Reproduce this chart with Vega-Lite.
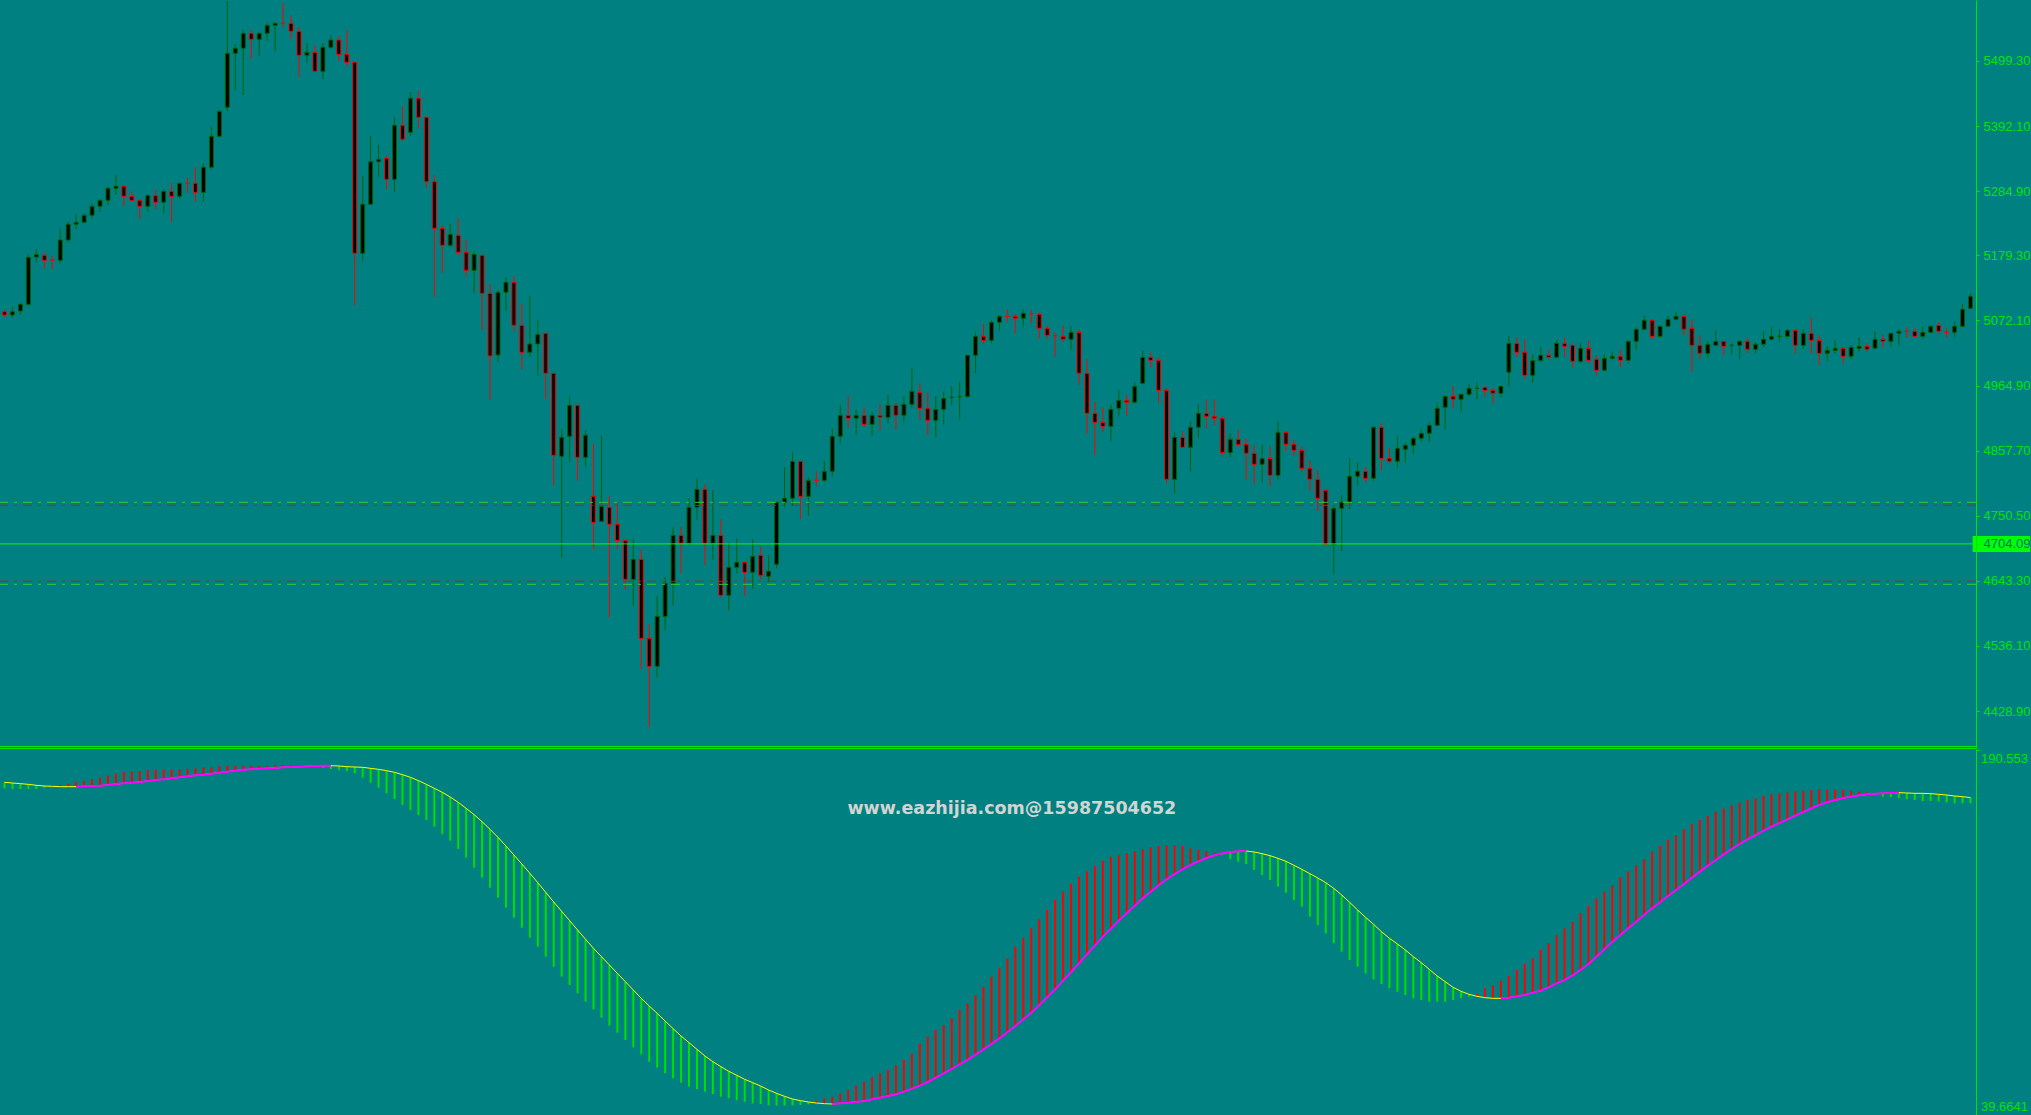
{
"$schema":"https://vega.github.io/schema/vega-lite/v6.json",
"width":1976,"height":1115,"autosize":{"type":"none"},"padding":{"left":0,"top":0,"right":55,"bottom":0},"background":"#008080",
"config":{"view":{"stroke":null},"axis":{"domainColor":"#00e600","tickColor":"#00e600","labelColor":"#00e600","labelFont":"Liberation Sans","labelFontSize":13,"tickSize":3,"labelPadding":4,"grid":false,"labelOverlap":false,"labelFlush":false,"labelBound":false}},
"datasets":{
"candles":[
{"k":0,"o":5086.4,"h":5090.9,"l":5077.7,"c":5081.0},
{"k":1,"o":5081.0,"h":5094.7,"l":5075.6,"c":5086.4},
{"k":2,"o":5087.6,"h":5100.3,"l":5081.0,"c":5098.6},
{"k":3,"o":5098.6,"h":5181.5,"l":5097.0,"c":5176.0},
{"k":4,"o":5176.5,"h":5189.2,"l":5167.1,"c":5180.3},
{"k":5,"o":5179.3,"h":5184.3,"l":5157.3,"c":5171.1},
{"k":6,"o":5171.6,"h":5178.7,"l":5156.3,"c":5171.4},
{"k":7,"o":5171.1,"h":5223.8,"l":5166.2,"c":5204.5},
{"k":8,"o":5204.5,"h":5234.7,"l":5200.7,"c":5230.4},
{"k":9,"o":5230.4,"h":5247.3,"l":5222.6,"c":5233.7},
{"k":10,"o":5233.7,"h":5248.5,"l":5232.0,"c":5245.2},
{"k":11,"o":5245.2,"h":5265.0,"l":5240.3,"c":5260.0},
{"k":12,"o":5260.0,"h":5271.6,"l":5250.6,"c":5269.9},
{"k":13,"o":5269.9,"h":5292.3,"l":5261.0,"c":5289.7},
{"k":14,"o":5289.7,"h":5311.6,"l":5278.6,"c":5293.0},
{"k":15,"o":5293.0,"h":5295.1,"l":5261.0,"c":5276.5},
{"k":16,"o":5276.5,"h":5284.7,"l":5268.3,"c":5269.9},
{"k":17,"o":5269.9,"h":5271.6,"l":5238.6,"c":5260.0},
{"k":18,"o":5260.0,"h":5279.8,"l":5250.6,"c":5277.5},
{"k":19,"o":5277.5,"h":5288.0,"l":5255.6,"c":5266.6},
{"k":20,"o":5266.6,"h":5288.0,"l":5248.5,"c":5284.7},
{"k":21,"o":5284.7,"h":5297.9,"l":5234.7,"c":5276.5},
{"k":22,"o":5276.5,"h":5299.5,"l":5272.0,"c":5297.9},
{"k":23,"o":5297.9,"h":5307.1,"l":5282.4,"c":5297.7},
{"k":24,"o":5297.9,"h":5324.3,"l":5267.6,"c":5283.1},
{"k":25,"o":5283.1,"h":5330.8,"l":5267.6,"c":5324.3},
{"k":26,"o":5324.3,"h":5391.1,"l":5319.8,"c":5375.3},
{"k":27,"o":5375.3,"h":5418.6,"l":5375.3,"c":5416.5},
{"k":28,"o":5423.1,"h":5598.1,"l":5417.0,"c":5512.0},
{"k":29,"o":5512.0,"h":5527.3,"l":5451.5,"c":5520.2},
{"k":30,"o":5520.2,"h":5551.5,"l":5443.3,"c":5544.9},
{"k":31,"o":5544.9,"h":5550.3,"l":5502.6,"c":5535.0},
{"k":32,"o":5535.0,"h":5547.5,"l":5508.0,"c":5544.9},
{"k":33,"o":5544.9,"h":5563.0,"l":5532.2,"c":5558.1},
{"k":34,"o":5558.1,"h":5562.4,"l":5514.6,"c":5561.4},
{"k":35,"o":5561.4,"h":5595.3,"l":5554.8,"c":5561.2},
{"k":36,"o":5561.4,"h":5575.0,"l":5535.5,"c":5548.2},
{"k":37,"o":5548.2,"h":5554.8,"l":5473.0,"c":5508.7},
{"k":38,"o":5508.7,"h":5529.4,"l":5496.5,"c":5513.6},
{"k":39,"o":5513.6,"h":5525.6,"l":5482.3,"c":5482.3},
{"k":40,"o":5482.3,"h":5528.4,"l":5469.7,"c":5521.9},
{"k":41,"o":5521.9,"h":5541.6,"l":5519.1,"c":5533.9},
{"k":42,"o":5533.9,"h":5540.5,"l":5499.3,"c":5510.3},
{"k":43,"o":5510.3,"h":5550.3,"l":5489.9,"c":5497.2},
{"k":44,"o":5497.2,"h":5497.5,"l":5097.5,"c":5182.6},
{"k":45,"o":5182.6,"h":5309.9,"l":5170.4,"c":5263.3},
{"k":46,"o":5263.3,"h":5375.8,"l":5263.3,"c":5333.5},
{"k":47,"o":5333.5,"h":5360.9,"l":5307.8,"c":5337.4},
{"k":48,"o":5339.1,"h":5344.0,"l":5288.5,"c":5304.5},
{"k":49,"o":5304.5,"h":5407.1,"l":5282.4,"c":5393.4},
{"k":50,"o":5393.4,"h":5425.2,"l":5368.0,"c":5370.4},
{"k":51,"o":5381.9,"h":5448.2,"l":5376.3,"c":5437.9},
{"k":52,"o":5437.9,"h":5449.9,"l":5387.8,"c":5406.6},
{"k":53,"o":5406.6,"h":5408.7,"l":5290.6,"c":5300.5},
{"k":54,"o":5300.5,"h":5311.6,"l":5111.2,"c":5223.8},
{"k":55,"o":5223.8,"h":5228.7,"l":5150.7,"c":5195.8},
{"k":56,"o":5195.8,"h":5230.9,"l":5192.5,"c":5213.9},
{"k":57,"o":5212.3,"h":5240.3,"l":5179.3,"c":5184.3},
{"k":58,"o":5184.3,"h":5204.5,"l":5144.1,"c":5154.6},
{"k":59,"o":5154.6,"h":5185.9,"l":5116.7,"c":5181.0},
{"k":60,"o":5179.3,"h":5179.3,"l":5056.3,"c":5116.7},
{"k":61,"o":5116.7,"h":5132.1,"l":4941.0,"c":5013.5},
{"k":62,"o":5015.1,"h":5122.2,"l":5003.6,"c":5118.4},
{"k":63,"o":5118.4,"h":5143.1,"l":5088.1,"c":5134.9},
{"k":64,"o":5134.9,"h":5145.2,"l":5054.7,"c":5064.0},
{"k":65,"o":5064.0,"h":5099.1,"l":4991.6,"c":5019.6},
{"k":66,"o":5019.6,"h":5112.8,"l":5012.3,"c":5033.3},
{"k":67,"o":5033.3,"h":5073.9,"l":4979.4,"c":5049.2},
{"k":68,"o":5050.9,"h":5050.9,"l":4942.2,"c":4985.0},
{"k":69,"o":4985.0,"h":4985.0,"l":4800.6,"c":4850.0},
{"k":70,"o":4848.3,"h":4893.3,"l":4682.0,"c":4879.6},
{"k":71,"o":4881.3,"h":4947.1,"l":4839.4,"c":4932.3},
{"k":72,"o":4932.3,"h":4932.3,"l":4808.2,"c":4846.7},
{"k":73,"o":4846.7,"h":4891.6,"l":4831.2,"c":4882.9},
{"k":74,"o":4782.5,"h":4868.6,"l":4695.2,"c":4739.6},
{"k":75,"o":4741.3,"h":4882.9,"l":4741.3,"c":4766.0},
{"k":76,"o":4764.3,"h":4782.5,"l":4583.2,"c":4736.4},
{"k":77,"o":4736.4,"h":4770.9,"l":4695.2,"c":4710.0},
{"k":78,"o":4710.0,"h":4710.0,"l":4629.3,"c":4645.8},
{"k":79,"o":4645.8,"h":4711.6,"l":4602.9,"c":4678.7},
{"k":80,"o":4678.7,"h":4695.2,"l":4497.6,"c":4548.6},
{"k":81,"o":4548.6,"h":4571.7,"l":4402.0,"c":4502.5},
{"k":82,"o":4502.5,"h":4617.8,"l":4484.4,"c":4584.8},
{"k":83,"o":4584.8,"h":4649.1,"l":4561.8,"c":4639.2},
{"k":84,"o":4639.2,"h":4731.4,"l":4602.9,"c":4718.2},
{"k":85,"o":4718.2,"h":4733.0,"l":4655.6,"c":4705.1},
{"k":86,"o":4705.1,"h":4779.2,"l":4701.8,"c":4764.3},
{"k":87,"o":4764.3,"h":4812.1,"l":4742.9,"c":4794.0},
{"k":88,"o":4794.0,"h":4802.2,"l":4668.8,"c":4705.1},
{"k":89,"o":4705.1,"h":4792.3,"l":4678.7,"c":4718.2},
{"k":90,"o":4718.2,"h":4744.6,"l":4616.1,"c":4619.4},
{"k":91,"o":4619.4,"h":4706.7,"l":4594.7,"c":4665.5},
{"k":92,"o":4665.5,"h":4713.3,"l":4655.6,"c":4673.8},
{"k":93,"o":4673.8,"h":4673.8,"l":4617.8,"c":4657.3},
{"k":94,"o":4657.3,"h":4711.6,"l":4630.9,"c":4683.6},
{"k":95,"o":4685.3,"h":4700.1,"l":4645.8,"c":4652.3},
{"k":96,"o":4650.7,"h":4685.3,"l":4640.8,"c":4659.0},
{"k":97,"o":4670.5,"h":4772.6,"l":4663.9,"c":4772.6},
{"k":98,"o":4772.6,"h":4830.2,"l":4764.3,"c":4779.2},
{"k":99,"o":4779.2,"h":4854.9,"l":4766.0,"c":4840.1},
{"k":100,"o":4840.1,"h":4840.1,"l":4744.6,"c":4782.5},
{"k":101,"o":4782.5,"h":4813.7,"l":4751.2,"c":4808.8},
{"k":102,"o":4808.9,"h":4823.6,"l":4798.9,"c":4808.7},
{"k":103,"o":4808.8,"h":4840.1,"l":4805.5,"c":4823.6},
{"k":104,"o":4823.6,"h":4894.4,"l":4815.4,"c":4881.3},
{"k":105,"o":4881.3,"h":4932.3,"l":4869.7,"c":4915.8},
{"k":106,"o":4915.8,"h":4947.1,"l":4896.1,"c":4910.9},
{"k":107,"o":4910.9,"h":4925.7,"l":4884.6,"c":4915.8},
{"k":108,"o":4915.8,"h":4929.0,"l":4896.1,"c":4901.0},
{"k":109,"o":4901.0,"h":4920.8,"l":4882.9,"c":4915.8},
{"k":110,"o":4915.8,"h":4933.9,"l":4891.1,"c":4912.5},
{"k":111,"o":4912.5,"h":4950.4,"l":4902.7,"c":4932.3},
{"k":112,"o":4932.3,"h":4935.6,"l":4892.8,"c":4915.8},
{"k":113,"o":4915.8,"h":4947.1,"l":4903.7,"c":4933.9},
{"k":114,"o":4933.9,"h":4993.2,"l":4929.0,"c":4955.4},
{"k":115,"o":4953.7,"h":4968.5,"l":4907.6,"c":4927.4},
{"k":116,"o":4927.4,"h":4953.7,"l":4883.9,"c":4907.6},
{"k":117,"o":4907.6,"h":4947.1,"l":4879.6,"c":4925.7},
{"k":118,"o":4925.7,"h":4955.4,"l":4901.0,"c":4943.8},
{"k":119,"o":4945.4,"h":4963.6,"l":4932.3,"c":4945.6},
{"k":120,"o":4946.4,"h":4971.8,"l":4909.2,"c":4946.6},
{"k":121,"o":4946.5,"h":5014.7,"l":4945.4,"c":5014.7},
{"k":122,"o":5014.7,"h":5052.5,"l":4985.0,"c":5045.9},
{"k":123,"o":5045.9,"h":5065.7,"l":5034.4,"c":5039.3},
{"k":124,"o":5039.3,"h":5072.3,"l":5034.4,"c":5069.0},
{"k":125,"o":5069.0,"h":5080.5,"l":5055.2,"c":5078.9},
{"k":126,"o":5079.0,"h":5090.4,"l":5069.0,"c":5078.8},
{"k":127,"o":5078.9,"h":5082.2,"l":5050.9,"c":5075.6},
{"k":128,"o":5075.6,"h":5090.4,"l":5060.8,"c":5083.8},
{"k":129,"o":5083.3,"h":5090.4,"l":5067.3,"c":5083.1},
{"k":130,"o":5082.2,"h":5085.4,"l":5042.0,"c":5059.1},
{"k":131,"o":5059.1,"h":5064.0,"l":5041.0,"c":5047.6},
{"k":132,"o":5047.0,"h":5052.5,"l":5012.3,"c":5046.8},
{"k":133,"o":5045.9,"h":5063.4,"l":5036.1,"c":5041.0},
{"k":134,"o":5041.0,"h":5062.4,"l":5022.9,"c":5052.5},
{"k":135,"o":5052.5,"h":5057.5,"l":4966.2,"c":4985.0},
{"k":136,"o":4985.0,"h":5008.1,"l":4885.5,"c":4919.1},
{"k":137,"o":4919.1,"h":4938.9,"l":4850.0,"c":4904.3},
{"k":138,"o":4904.3,"h":4929.0,"l":4887.8,"c":4897.7},
{"k":139,"o":4897.7,"h":4933.9,"l":4873.0,"c":4925.7},
{"k":140,"o":4927.4,"h":4957.0,"l":4914.2,"c":4940.5},
{"k":141,"o":4940.5,"h":4950.4,"l":4914.2,"c":4937.2},
{"k":142,"o":4937.2,"h":4970.2,"l":4935.6,"c":4963.6},
{"k":143,"o":4968.5,"h":5022.9,"l":4966.9,"c":5011.4},
{"k":144,"o":5011.4,"h":5019.6,"l":4994.9,"c":5006.4},
{"k":145,"o":5006.4,"h":5011.4,"l":4935.6,"c":4957.0},
{"k":146,"o":4957.0,"h":4960.3,"l":4803.9,"c":4810.4},
{"k":147,"o":4810.4,"h":4887.8,"l":4787.4,"c":4879.6},
{"k":148,"o":4879.6,"h":4889.5,"l":4863.2,"c":4863.2},
{"k":149,"o":4863.2,"h":4905.9,"l":4823.6,"c":4896.1},
{"k":150,"o":4896.1,"h":4933.9,"l":4878.0,"c":4919.1},
{"k":151,"o":4919.1,"h":4942.2,"l":4894.4,"c":4914.2},
{"k":152,"o":4914.2,"h":4942.2,"l":4899.4,"c":4910.9},
{"k":153,"o":4910.9,"h":4914.2,"l":4847.7,"c":4854.3},
{"k":154,"o":4854.3,"h":4886.2,"l":4847.7,"c":4876.3},
{"k":155,"o":4876.3,"h":4892.8,"l":4864.1,"c":4867.4},
{"k":156,"o":4868.1,"h":4878.0,"l":4809.8,"c":4853.3},
{"k":157,"o":4853.3,"h":4866.4,"l":4802.2,"c":4835.2},
{"k":158,"o":4835.2,"h":4868.1,"l":4805.5,"c":4844.4},
{"k":159,"o":4845.0,"h":4864.8,"l":4798.9,"c":4817.0},
{"k":160,"o":4817.0,"h":4905.9,"l":4810.4,"c":4887.8},
{"k":161,"o":4887.8,"h":4890.0,"l":4856.6,"c":4868.1},
{"k":162,"o":4868.1,"h":4874.7,"l":4849.3,"c":4858.2},
{"k":163,"o":4858.2,"h":4864.8,"l":4822.0,"c":4828.6},
{"k":164,"o":4828.6,"h":4841.7,"l":4791.7,"c":4810.4},
{"k":165,"o":4810.4,"h":4825.3,"l":4758.7,"c":4779.2},
{"k":166,"o":4792.3,"h":4794.0,"l":4701.8,"c":4703.4},
{"k":167,"o":4703.4,"h":4767.6,"l":4654.0,"c":4762.7},
{"k":168,"o":4762.7,"h":4784.1,"l":4691.9,"c":4772.6},
{"k":169,"o":4772.6,"h":4845.0,"l":4761.0,"c":4815.4},
{"k":170,"o":4815.4,"h":4838.4,"l":4800.6,"c":4823.6},
{"k":171,"o":4823.6,"h":4830.2,"l":4805.5,"c":4812.1},
{"k":172,"o":4812.1,"h":4897.7,"l":4807.2,"c":4896.1},
{"k":173,"o":4896.1,"h":4902.7,"l":4825.3,"c":4845.0},
{"k":174,"o":4845.0,"h":4861.5,"l":4836.8,"c":4840.1},
{"k":175,"o":4840.1,"h":4881.3,"l":4828.6,"c":4861.5},
{"k":176,"o":4859.9,"h":4871.4,"l":4838.4,"c":4866.4},
{"k":177,"o":4866.4,"h":4881.3,"l":4851.6,"c":4878.0},
{"k":178,"o":4878.0,"h":4894.4,"l":4871.4,"c":4886.2},
{"k":179,"o":4886.2,"h":4904.3,"l":4871.4,"c":4899.4},
{"k":180,"o":4899.4,"h":4937.2,"l":4897.7,"c":4927.4},
{"k":181,"o":4929.0,"h":4948.8,"l":4892.8,"c":4947.1},
{"k":182,"o":4947.1,"h":4963.6,"l":4927.4,"c":4942.2},
{"k":183,"o":4942.2,"h":4952.1,"l":4920.8,"c":4950.4},
{"k":184,"o":4950.4,"h":4966.9,"l":4947.1,"c":4960.3},
{"k":185,"o":4960.2,"h":4970.2,"l":4942.2,"c":4960.4},
{"k":186,"o":4962.0,"h":4963.6,"l":4946.5,"c":4957.0},
{"k":187,"o":4957.0,"h":4960.3,"l":4935.6,"c":4952.1},
{"k":188,"o":4952.1,"h":4965.2,"l":4945.4,"c":4963.6},
{"k":189,"o":4986.7,"h":5045.9,"l":4962.9,"c":5034.4},
{"k":190,"o":5034.4,"h":5044.3,"l":5011.4,"c":5019.6},
{"k":191,"o":5019.6,"h":5041.0,"l":4975.1,"c":4981.7},
{"k":192,"o":4981.7,"h":5016.3,"l":4968.5,"c":5005.8},
{"k":193,"o":5005.8,"h":5029.5,"l":5004.8,"c":5014.7},
{"k":194,"o":5014.7,"h":5024.5,"l":5006.9,"c":5011.4},
{"k":195,"o":5011.4,"h":5041.0,"l":5009.7,"c":5034.4},
{"k":196,"o":5034.4,"h":5044.3,"l":5012.3,"c":5029.5},
{"k":197,"o":5031.1,"h":5032.8,"l":4994.9,"c":5004.8},
{"k":198,"o":5004.8,"h":5034.9,"l":5001.5,"c":5026.2},
{"k":199,"o":5026.2,"h":5039.3,"l":5001.5,"c":5006.4},
{"k":200,"o":5008.1,"h":5014.7,"l":4981.7,"c":4989.9},
{"k":201,"o":4989.9,"h":5016.3,"l":4988.3,"c":5009.7},
{"k":202,"o":5009.7,"h":5021.2,"l":5006.4,"c":5013.0},
{"k":203,"o":5013.0,"h":5024.5,"l":4994.9,"c":5006.4},
{"k":204,"o":5006.4,"h":5039.3,"l":5001.5,"c":5037.7},
{"k":205,"o":5037.7,"h":5060.8,"l":5022.9,"c":5057.5},
{"k":206,"o":5057.5,"h":5079.4,"l":5055.8,"c":5072.3},
{"k":207,"o":5072.3,"h":5074.4,"l":5041.0,"c":5045.9},
{"k":208,"o":5045.9,"h":5064.0,"l":5044.3,"c":5062.4},
{"k":209,"o":5062.4,"h":5079.4,"l":5060.8,"c":5073.9},
{"k":210,"o":5073.9,"h":5085.9,"l":5072.3,"c":5078.9},
{"k":211,"o":5078.9,"h":5082.2,"l":5047.6,"c":5057.5},
{"k":212,"o":5059.1,"h":5074.4,"l":4986.7,"c":5031.1},
{"k":213,"o":5031.1,"h":5047.6,"l":5008.1,"c":5017.9},
{"k":214,"o":5017.9,"h":5037.7,"l":5011.4,"c":5032.8},
{"k":215,"o":5031.1,"h":5055.8,"l":5031.1,"c":5037.7},
{"k":216,"o":5037.7,"h":5037.7,"l":5014.7,"c":5029.5},
{"k":217,"o":5031.0,"h":5034.4,"l":5016.3,"c":5031.2},
{"k":218,"o":5031.1,"h":5039.3,"l":5008.1,"c":5037.7},
{"k":219,"o":5037.7,"h":5044.3,"l":5017.9,"c":5024.5},
{"k":220,"o":5024.5,"h":5036.1,"l":5017.9,"c":5032.8},
{"k":221,"o":5032.8,"h":5054.2,"l":5027.8,"c":5041.0},
{"k":222,"o":5041.0,"h":5062.4,"l":5039.3,"c":5045.9},
{"k":223,"o":5045.8,"h":5057.5,"l":5036.1,"c":5046.0},
{"k":224,"o":5045.9,"h":5057.5,"l":5044.3,"c":5055.8},
{"k":225,"o":5055.8,"h":5057.5,"l":5017.9,"c":5031.1},
{"k":226,"o":5031.1,"h":5057.5,"l":5024.5,"c":5050.9},
{"k":227,"o":5050.9,"h":5077.2,"l":5017.9,"c":5039.3},
{"k":228,"o":5039.3,"h":5047.6,"l":4998.2,"c":5017.9},
{"k":229,"o":5017.9,"h":5029.5,"l":5004.8,"c":5022.9},
{"k":230,"o":5022.9,"h":5039.3,"l":5017.9,"c":5026.2},
{"k":231,"o":5026.2,"h":5027.8,"l":5001.5,"c":5013.0},
{"k":232,"o":5013.0,"h":5031.1,"l":5008.1,"c":5027.8},
{"k":233,"o":5026.2,"h":5044.3,"l":5021.2,"c":5029.5},
{"k":234,"o":5029.5,"h":5034.4,"l":5019.6,"c":5024.5},
{"k":235,"o":5026.2,"h":5054.2,"l":5024.5,"c":5041.0},
{"k":236,"o":5041.0,"h":5049.2,"l":5027.8,"c":5037.7},
{"k":237,"o":5037.7,"h":5052.5,"l":5029.5,"c":5050.9},
{"k":238,"o":5050.9,"h":5057.5,"l":5031.1,"c":5054.2},
{"k":239,"o":5054.3,"h":5060.8,"l":5044.3,"c":5054.1},
{"k":240,"o":5054.2,"h":5059.1,"l":5044.3,"c":5045.9},
{"k":241,"o":5045.9,"h":5062.4,"l":5042.6,"c":5052.5},
{"k":242,"o":5052.5,"h":5064.0,"l":5050.9,"c":5062.4},
{"k":243,"o":5064.0,"h":5069.0,"l":5049.2,"c":5054.2},
{"k":244,"o":5052.6,"h":5059.1,"l":5044.3,"c":5052.4},
{"k":245,"o":5052.5,"h":5070.6,"l":5044.3,"c":5062.4},
{"k":246,"o":5062.4,"h":5100.3,"l":5060.8,"c":5090.4},
{"k":247,"o":5092.0,"h":5116.7,"l":5090.4,"c":5111.8}
],
"ind":[
{"k":0,"m":177.19,"s":174.71,"u":0},{"k":1,"m":176.91,"s":174.43,"u":0},{"k":2,"m":176.64,"s":174.43,"u":0},{"k":3,"m":176.36,"s":174.43,"u":0},{"k":4,"m":175.95,"s":174.43,"u":0},{"k":5,"m":175.67,"s":174.98,"u":0},{"k":6,"m":175.53,"s":175.81,"u":0},{"k":7,"m":175.40,"s":176.09,"u":0},{"k":8,"m":175.40,"s":176.78,"u":0},{"k":9,"m":175.40,"s":177.33,"u":1},
{"k":10,"m":175.53,"s":177.88,"u":1},{"k":11,"m":175.67,"s":178.57,"u":1},{"k":12,"m":175.81,"s":179.12,"u":1},{"k":13,"m":176.09,"s":179.94,"u":1},{"k":14,"m":176.50,"s":180.77,"u":1},{"k":15,"m":176.78,"s":181.46,"u":1},{"k":16,"m":177.05,"s":181.73,"u":1},{"k":17,"m":177.33,"s":181.87,"u":1},{"k":18,"m":177.74,"s":182.29,"u":1},{"k":19,"m":178.15,"s":182.42,"u":1},
{"k":20,"m":178.43,"s":182.42,"u":1},{"k":21,"m":178.84,"s":182.42,"u":1},{"k":22,"m":179.25,"s":182.70,"u":1},{"k":23,"m":179.67,"s":182.84,"u":1},{"k":24,"m":180.08,"s":182.97,"u":1},{"k":25,"m":180.36,"s":183.39,"u":1},{"k":26,"m":180.77,"s":183.53,"u":1},{"k":27,"m":181.18,"s":183.80,"u":1},{"k":28,"m":181.60,"s":184.08,"u":1},{"k":29,"m":182.01,"s":184.08,"u":1},
{"k":30,"m":182.42,"s":184.08,"u":1},{"k":31,"m":182.56,"s":184.08,"u":1},{"k":32,"m":182.84,"s":184.08,"u":1},{"k":33,"m":182.97,"s":184.08,"u":1},{"k":34,"m":183.11,"s":184.21,"u":1},{"k":35,"m":183.39,"s":184.21,"u":1},{"k":36,"m":183.53,"s":184.21,"u":1},{"k":37,"m":183.66,"s":184.21,"u":1},{"k":38,"m":183.80,"s":184.21,"u":1},{"k":39,"m":183.94,"s":184.21,"u":1},
{"k":40,"m":184.08,"s":183.25,"u":1},{"k":41,"m":184.08,"s":182.70,"u":1},{"k":42,"m":183.94,"s":182.29,"u":0},{"k":43,"m":183.66,"s":181.87,"u":0},{"k":44,"m":183.53,"s":180.91,"u":0},{"k":45,"m":183.39,"s":179.12,"u":0},{"k":46,"m":182.97,"s":177.05,"u":0},{"k":47,"m":182.56,"s":174.98,"u":0},{"k":48,"m":182.01,"s":172.64,"u":0},{"k":49,"m":181.32,"s":170.30,"u":0},
{"k":50,"m":180.36,"s":167.82,"u":0},{"k":51,"m":179.25,"s":165.75,"u":0},{"k":52,"m":177.88,"s":163.68,"u":0},{"k":53,"m":176.36,"s":161.62,"u":0},{"k":54,"m":174.71,"s":158.86,"u":0},{"k":55,"m":173.05,"s":155.83,"u":0},{"k":56,"m":171.12,"s":153.07,"u":0},{"k":57,"m":168.92,"s":149.63,"u":0},{"k":58,"m":166.44,"s":146.05,"u":0},{"k":59,"m":163.82,"s":141.91,"u":0},
{"k":60,"m":160.93,"s":137.78,"u":0},{"k":61,"m":157.76,"s":133.64,"u":0},{"k":62,"m":154.45,"s":129.51,"u":0},{"k":63,"m":150.87,"s":125.38,"u":0},{"k":64,"m":147.15,"s":121.24,"u":0},{"k":65,"m":143.43,"s":117.11,"u":0},{"k":66,"m":139.57,"s":112.97,"u":0},{"k":67,"m":135.71,"s":109.25,"u":0},{"k":68,"m":131.71,"s":105.12,"u":0},{"k":69,"m":127.72,"s":100.98,"u":0},
{"k":70,"m":123.86,"s":96.85,"u":0},{"k":71,"m":120.00,"s":93.41,"u":0},{"k":72,"m":116.14,"s":89.96,"u":0},{"k":73,"m":112.28,"s":86.52,"u":0},{"k":74,"m":108.56,"s":83.35,"u":0},{"k":75,"m":105.12,"s":79.90,"u":0},{"k":76,"m":101.67,"s":76.60,"u":0},{"k":77,"m":98.23,"s":73.70,"u":0},{"k":78,"m":94.78,"s":70.67,"u":0},{"k":79,"m":91.34,"s":67.64,"u":0},
{"k":80,"m":87.89,"s":64.74,"u":0},{"k":81,"m":84.72,"s":61.71,"u":0},{"k":82,"m":81.69,"s":59.23,"u":0},{"k":83,"m":78.52,"s":56.89,"u":0},{"k":84,"m":75.36,"s":54.82,"u":0},{"k":85,"m":72.32,"s":53.03,"u":0},{"k":86,"m":69.57,"s":51.38,"u":0},{"k":87,"m":66.81,"s":50.28,"u":0},{"k":88,"m":64.06,"s":49.31,"u":0},{"k":89,"m":61.71,"s":48.35,"u":0},
{"k":90,"m":59.65,"s":47.24,"u":0},{"k":91,"m":57.72,"s":46.56,"u":0},{"k":92,"m":56.06,"s":45.87,"u":0},{"k":93,"m":54.41,"s":45.18,"u":0},{"k":94,"m":53.03,"s":44.49,"u":0},{"k":95,"m":51.65,"s":44.21,"u":0},{"k":96,"m":50.00,"s":43.66,"u":0},{"k":97,"m":48.62,"s":43.52,"u":0},{"k":98,"m":47.38,"s":43.52,"u":0},{"k":99,"m":46.28,"s":43.66,"u":0},
{"k":100,"m":45.59,"s":43.80,"u":0},{"k":101,"m":45.04,"s":44.08,"u":0},{"k":102,"m":44.63,"s":45.59,"u":0},{"k":103,"m":44.35,"s":46.56,"u":0},{"k":104,"m":44.21,"s":47.24,"u":2},{"k":105,"m":44.49,"s":48.62,"u":2},{"k":106,"m":44.76,"s":50.00,"u":2},{"k":107,"m":45.04,"s":51.79,"u":2},{"k":108,"m":45.45,"s":53.45,"u":2},{"k":109,"m":46.14,"s":55.24,"u":2},
{"k":110,"m":46.83,"s":56.89,"u":2},{"k":111,"m":47.52,"s":58.27,"u":2},{"k":112,"m":48.21,"s":60.34,"u":2},{"k":113,"m":49.31,"s":62.40,"u":2},{"k":114,"m":50.55,"s":65.16,"u":2},{"k":115,"m":51.79,"s":69.02,"u":2},{"k":116,"m":53.31,"s":72.05,"u":2},{"k":117,"m":55.10,"s":74.80,"u":2},{"k":118,"m":56.89,"s":76.87,"u":2},{"k":119,"m":58.68,"s":79.63,"u":2},
{"k":120,"m":60.61,"s":83.07,"u":2},{"k":121,"m":62.40,"s":85.83,"u":2},{"k":122,"m":64.61,"s":89.27,"u":2},{"k":123,"m":66.81,"s":92.72,"u":2},{"k":124,"m":69.02,"s":96.85,"u":2},{"k":125,"m":71.36,"s":100.30,"u":2},{"k":126,"m":73.84,"s":104.43,"u":2},{"k":127,"m":76.46,"s":109.25,"u":2},{"k":128,"m":79.21,"s":112.97,"u":2},{"k":129,"m":81.97,"s":116.83,"u":2},
{"k":130,"m":85.14,"s":120.69,"u":2},{"k":131,"m":88.31,"s":124.41,"u":2},{"k":132,"m":91.62,"s":128.54,"u":2},{"k":133,"m":95.20,"s":131.99,"u":2},{"k":134,"m":98.78,"s":135.16,"u":2},{"k":135,"m":102.36,"s":138.19,"u":2},{"k":136,"m":106.08,"s":140.26,"u":2},{"k":137,"m":109.80,"s":142.60,"u":2},{"k":138,"m":113.39,"s":144.80,"u":2},{"k":139,"m":116.69,"s":146.46,"u":2},
{"k":140,"m":120.00,"s":147.15,"u":2},{"k":141,"m":123.17,"s":147.84,"u":2},{"k":142,"m":126.20,"s":148.80,"u":2},{"k":143,"m":129.23,"s":149.49,"u":2},{"k":144,"m":131.99,"s":150.32,"u":2},{"k":145,"m":134.61,"s":150.87,"u":2},{"k":146,"m":137.09,"s":151.14,"u":2},{"k":147,"m":139.29,"s":151.14,"u":2},{"k":148,"m":141.22,"s":150.87,"u":2},{"k":149,"m":143.01,"s":149.90,"u":2},
{"k":150,"m":144.53,"s":149.21,"u":2},{"k":151,"m":145.91,"s":148.80,"u":2},{"k":152,"m":147.01,"s":148.11,"u":2},{"k":153,"m":147.84,"s":147.15,"u":2},{"k":154,"m":148.39,"s":145.49,"u":2},{"k":155,"m":148.66,"s":144.39,"u":2},{"k":156,"m":148.80,"s":143.43,"u":2},{"k":157,"m":148.39,"s":140.95,"u":0},{"k":158,"m":147.70,"s":138.88,"u":0},{"k":159,"m":146.87,"s":136.81,"u":0},
{"k":160,"m":145.77,"s":134.06,"u":0},{"k":161,"m":144.53,"s":131.58,"u":0},{"k":162,"m":142.88,"s":128.54,"u":0},{"k":163,"m":141.22,"s":125.79,"u":0},{"k":164,"m":139.43,"s":121.65,"u":0},{"k":165,"m":137.64,"s":118.21,"u":0},{"k":166,"m":135.71,"s":114.77,"u":0},{"k":167,"m":133.37,"s":110.63,"u":0},{"k":168,"m":130.61,"s":107.19,"u":0},{"k":169,"m":127.58,"s":103.74,"u":0},
{"k":170,"m":124.41,"s":100.98,"u":0},{"k":171,"m":121.38,"s":98.23,"u":0},{"k":172,"m":118.49,"s":95.75,"u":0},{"k":173,"m":115.45,"s":93.82,"u":0},{"k":174,"m":112.70,"s":92.03,"u":0},{"k":175,"m":110.36,"s":90.65,"u":0},{"k":176,"m":107.88,"s":89.27,"u":0},{"k":177,"m":105.12,"s":87.89,"u":0},{"k":178,"m":102.64,"s":87.21,"u":0},{"k":179,"m":99.88,"s":86.52,"u":0},
{"k":180,"m":97.13,"s":86.52,"u":0},{"k":181,"m":94.78,"s":86.52,"u":0},{"k":182,"m":92.44,"s":87.21,"u":0},{"k":183,"m":90.79,"s":87.89,"u":0},{"k":184,"m":89.55,"s":88.58,"u":0},{"k":185,"m":88.72,"s":89.69,"u":0},{"k":186,"m":88.17,"s":92.03,"u":0},{"k":187,"m":87.89,"s":93.41,"u":0},{"k":188,"m":87.89,"s":95.20,"u":3},{"k":189,"m":88.17,"s":97.13,"u":3},
{"k":190,"m":88.72,"s":99.61,"u":3},{"k":191,"m":89.27,"s":102.09,"u":3},{"k":192,"m":90.24,"s":104.43,"u":3},{"k":193,"m":91.06,"s":107.88,"u":3},{"k":194,"m":92.44,"s":110.63,"u":3},{"k":195,"m":94.09,"s":114.08,"u":3},{"k":196,"m":95.47,"s":116.83,"u":3},{"k":197,"m":97.40,"s":119.59,"u":3},{"k":198,"m":99.61,"s":123.03,"u":3},{"k":199,"m":102.09,"s":126.06,"u":3},
{"k":200,"m":105.12,"s":129.23,"u":3},{"k":201,"m":108.15,"s":131.99,"u":3},{"k":202,"m":111.32,"s":134.75,"u":3},{"k":203,"m":114.08,"s":137.92,"u":3},{"k":204,"m":116.83,"s":140.26,"u":3},{"k":205,"m":119.59,"s":143.01,"u":3},{"k":206,"m":122.48,"s":145.49,"u":3},{"k":207,"m":125.10,"s":148.53,"u":3},{"k":208,"m":127.58,"s":150.87,"u":3},{"k":209,"m":130.20,"s":153.35,"u":3},
{"k":210,"m":132.68,"s":155.41,"u":3},{"k":211,"m":135.16,"s":157.76,"u":3},{"k":212,"m":137.78,"s":159.96,"u":3},{"k":213,"m":140.26,"s":161.62,"u":3},{"k":214,"m":142.74,"s":163.27,"u":3},{"k":215,"m":145.08,"s":165.06,"u":3},{"k":216,"m":147.42,"s":166.44,"u":3},{"k":217,"m":149.63,"s":167.82,"u":3},{"k":218,"m":151.69,"s":168.78,"u":3},{"k":219,"m":153.62,"s":169.88,"u":3},
{"k":220,"m":155.41,"s":170.57,"u":3},{"k":221,"m":157.21,"s":171.54,"u":3},{"k":222,"m":158.86,"s":172.23,"u":3},{"k":223,"m":160.38,"s":172.64,"u":3},{"k":224,"m":161.89,"s":173.05,"u":3},{"k":225,"m":163.41,"s":173.47,"u":3},{"k":226,"m":164.92,"s":173.74,"u":3},{"k":227,"m":166.44,"s":174.02,"u":3},{"k":228,"m":167.82,"s":174.29,"u":3},{"k":229,"m":168.92,"s":174.29,"u":3},
{"k":230,"m":169.88,"s":174.29,"u":3},{"k":231,"m":170.71,"s":174.02,"u":3},{"k":232,"m":171.26,"s":173.74,"u":3},{"k":233,"m":171.81,"s":173.33,"u":3},{"k":234,"m":172.23,"s":173.05,"u":3},{"k":235,"m":172.50,"s":171.95,"u":3},{"k":236,"m":172.64,"s":171.26,"u":3},{"k":237,"m":172.78,"s":170.99,"u":3},{"k":238,"m":172.92,"s":170.57,"u":3},{"k":239,"m":172.78,"s":170.16,"u":0},
{"k":240,"m":172.64,"s":169.88,"u":0},{"k":241,"m":172.64,"s":169.47,"u":0},{"k":242,"m":172.50,"s":169.47,"u":0},{"k":243,"m":172.23,"s":169.19,"u":0},{"k":244,"m":171.95,"s":168.92,"u":0},{"k":245,"m":171.54,"s":168.51,"u":0},{"k":246,"m":171.26,"s":168.51,"u":0},{"k":247,"m":170.85,"s":168.51,"u":0}
],
"levels":[{"p":4772.6,"c":"g"},{"p":4767.6,"c":"r"},{"p":4642.5,"c":"r"},{"p":4637.5,"c":"g"}]
},
"layer":[
{"data":{"name":"candles"},"mark":{"type":"rule","strokeWidth":1},
 "encoding":{"x":{"field":"k","type":"quantitative","scale":{"domain":[0.0625,247.0625],"nice":false,"zero":false},"axis":null},
  "y":{"field":"l","type":"quantitative","scale":{"domain":[4367.97,5599.75],"range":[748,0],"nice":false,"zero":false},
   "axis":{"orient":"right","title":null,"zindex":1,"format":".2f","labelBaseline":"middle","values":[5499.3,5392.1,5284.9,5179.3,5072.1,4964.9,4857.7,4750.5,4704.09,4643.3,4536.1,4428.9],
   "labelColor":{"condition":{"test":"datum.value == 4704.09","value":"#00707f"},"value":"#00e600"}}},
  "y2":{"field":"h"},
  "color":{"condition":{"test":"datum.c >= datum.o","value":"#006400"},"value":"#ff0000"}}},
{"data":{"name":"candles"},"mark":{"type":"bar","size":4,"fill":"#000000","strokeWidth":1},
 "encoding":{"x":{"field":"k","type":"quantitative","scale":{"domain":[0.0625,247.0625],"nice":false,"zero":false},"axis":null},
  "y":{"field":"o","type":"quantitative","scale":{"domain":[4367.97,5599.75],"range":[748,0],"nice":false,"zero":false},"axis":null},
  "y2":{"field":"c"},
  "stroke":{"condition":{"test":"datum.c >= datum.o","value":"#006400"},"value":"#ff0000"}}},
{"data":{"name":"levels"},"mark":{"type":"rule","strokeWidth":1,"strokeDash":[9,6,3,6]},
 "encoding":{"y":{"field":"p","type":"quantitative","scale":{"domain":[4367.97,5599.75],"range":[748,0],"nice":false,"zero":false},"axis":null},
  "color":{"field":"c","type":"nominal","scale":{"domain":["g","r"],"range":["#32cd32","#ff0000"]},"legend":null}}},
{"data":{"values":[{}]},"mark":{"type":"rule","color":"#00ff00","strokeWidth":1},
 "encoding":{"y":{"datum":4704.09,"type":"quantitative","scale":{"domain":[4367.97,5599.75],"range":[748,0],"nice":false,"zero":false},"axis":null}}},
{"data":{"values":[{}]},"mark":{"type":"rule","color":"#00ff00","strokeWidth":16},
 "encoding":{"x":{"datum":247.28,"type":"quantitative","scale":{"domain":[0.0625,247.0625],"nice":false,"zero":false},"axis":null},"x2":{"datum":254.5},
  "y":{"datum":4704.09,"type":"quantitative","scale":{"domain":[4367.97,5599.75],"range":[748,0],"nice":false,"zero":false},"axis":null}}},
{"data":{"values":[{}]},"mark":{"type":"rule","color":"#00e600","strokeWidth":1},
 "encoding":{"y":{"datum":4370.43,"type":"quantitative","scale":{"domain":[4367.97,5599.75],"range":[748,0],"nice":false,"zero":false},"axis":null}}},
{"data":{"values":[{}]},"mark":{"type":"rule","color":"#00e600","strokeWidth":1},
 "encoding":{"y":{"datum":4367.15,"type":"quantitative","scale":{"domain":[4367.97,5599.75],"range":[748,0],"nice":false,"zero":false},"axis":null}}},
{"data":{"name":"ind"},"mark":{"type":"rule","strokeWidth":2},
 "encoding":{"x":{"field":"k","type":"quantitative","scale":{"domain":[0.0625,247.0625],"nice":false,"zero":false},"axis":null},
  "y":{"field":"m","type":"quantitative","scale":{"domain":[39.6641,190.966],"range":[1115,749],"nice":false,"zero":false},
   "axis":{"orient":"right","title":null,"values":[190.553,39.6641],"format":".6~g","labelBaseline":"top","labelPadding":1.5,
   "labelOffset":{"condition":{"test":"datum.value < 100","value":-15},"value":3}}},
  "y2":{"field":"s"},
  "color":{"condition":{"test":"datum.s > datum.m","value":"#ff0000"},"value":"#00e000"}}},
{"data":{"name":"ind"},"mark":{"type":"line","color":"#ffff00","strokeWidth":1},
 "encoding":{"x":{"field":"k","type":"quantitative","scale":{"domain":[0.0625,247.0625],"nice":false,"zero":false},"axis":null},
  "y":{"field":"m","type":"quantitative","scale":{"domain":[39.6641,190.966],"range":[1115,749],"nice":false,"zero":false},"axis":null}}},
{"data":{"name":"ind"},"transform":[{"filter":"datum.u > 0"}],"mark":{"type":"line","color":"#ff00ff","strokeWidth":2},
 "encoding":{"x":{"field":"k","type":"quantitative","scale":{"domain":[0.0625,247.0625],"nice":false,"zero":false},"axis":null},
  "y":{"field":"m","type":"quantitative","scale":{"domain":[39.6641,190.966],"range":[1115,749],"nice":false,"zero":false},"axis":null},
  "detail":{"field":"u","type":"nominal"}}},
{"data":{"values":[{}]},"mark":{"type":"text","text":"www.eazhijia.com@15987504652","font":"DejaVu Sans","fontWeight":"bold","fontSize":17.5,"color":"#d4d4d4","align":"center","baseline":"alphabetic"},
 "encoding":{"x":{"datum":126.56,"type":"quantitative","scale":{"domain":[0.0625,247.0625],"nice":false,"zero":false},"axis":null},
  "y":{"datum":164.1,"type":"quantitative","scale":{"domain":[39.6641,190.966],"range":[1115,749],"nice":false,"zero":false},"axis":null}}}
],
"resolve":{"scale":{"y":"independent"},"axis":{"y":"independent"}}
}
